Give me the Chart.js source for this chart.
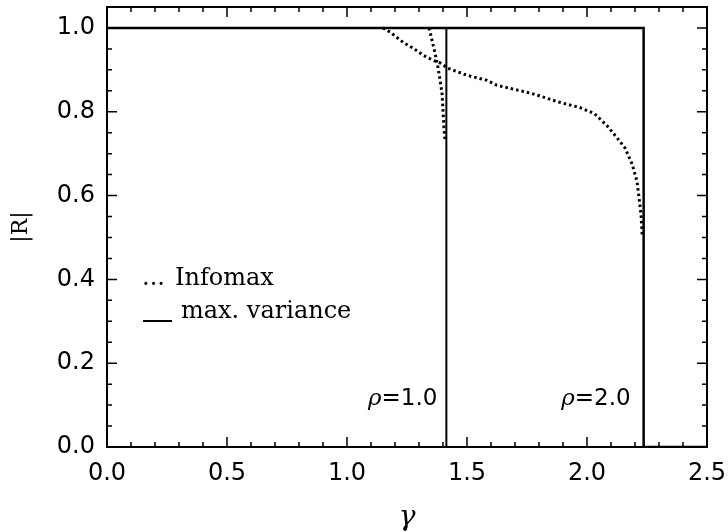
<!DOCTYPE html>
<html>
<head>
<meta charset="utf-8">
<script src="https://cdn.jsdelivr.net/npm/chart.js@4.4.0/dist/chart.umd.min.js"></script>
<style>
  html, body { margin: 0; padding: 0; background: #fff; }
</style>
</head>
<body>
<canvas id="chart" width="728" height="532"></canvas>
<script>
/* ---------- DATA ---------- */
const X_TICKS = [0, 0.5, 1.0, 1.5, 2.0, 2.5];
const Y_TICKS = [0, 0.2, 0.4, 0.6, 0.8, 1.0];

// Infomax, rho = 1.0
const infoRho1Gamma = [1.342, 1.354, 1.367, 1.379, 1.388, 1.396, 1.400, 1.404, 1.408];
const infoRho1R     = [1.000, 0.971, 0.940, 0.906, 0.875, 0.844, 0.803, 0.762, 0.735];

// Infomax, rho = 2.0
const infoRho2Gamma = [1.150, 1.180, 1.233, 1.275, 1.317, 1.358, 1.390, 1.420, 1.500, 1.583, 1.625,
                       1.767, 1.890, 1.970, 2.030, 2.083, 2.125, 2.158, 2.188, 2.208, 2.217, 2.225, 2.230];
const infoRho2R     = [1.000, 0.990, 0.966, 0.952, 0.935, 0.923, 0.916, 0.904, 0.887, 0.875, 0.863,
                       0.844, 0.822, 0.810, 0.796, 0.767, 0.738, 0.714, 0.675, 0.635, 0.594, 0.555, 0.507];

// max. variance: step down at gamma = sqrt(1 + rho^2)
const maxVarRho1Gamma = [0, 1.414, 1.414, 2.5];
const maxVarRho1R     = [1, 1, 0, 0];
const maxVarRho2Gamma = [0, 2.236, 2.236, 2.5];
const maxVarRho2R     = [1, 1, 0, 0];

// rho annotations next to the step lines
const RHO_STEPS = [1.414, 2.236];
const RHO_TEXT  = ["=1.0", "=2.0"];

/* ---------- HELPERS ---------- */
const pts = (xs, ys) => xs.map((g, i) => ({ x: g, y: ys[i] }));

/* ---------- FRAME + INWARD TICKS ---------- */
const framePlugin = {
  id: "frame",
  afterDatasetsDraw(chart) {
    const { ctx, chartArea: a, scales: { x, y } } = chart;
    ctx.save();
    ctx.strokeStyle = "#000";
    ctx.lineWidth = 2;
    ctx.strokeRect(a.left, a.top, a.right - a.left, a.bottom - a.top);

    ctx.lineWidth = 1.5;
    ctx.beginPath();
    for (let i = 0; i <= 25; i++) {
      const px = x.getPixelForValue(i / 10);
      const len = i % 5 === 0 ? 10 : 5;
      ctx.moveTo(px, a.bottom); ctx.lineTo(px, a.bottom - len);
      ctx.moveTo(px, a.top);    ctx.lineTo(px, a.top + len);
    }
    for (let i = 0; i <= 20; i++) {
      const py = y.getPixelForValue(i * 0.05);
      const len = i % 4 === 0 ? 10 : 5;
      ctx.moveTo(a.left, py);  ctx.lineTo(a.left + len, py);
      ctx.moveTo(a.right, py); ctx.lineTo(a.right - len, py);
    }
    ctx.stroke();
    ctx.restore();
  }
};

/* ---------- TEXT: LEGEND + RHO LABELS ---------- */
const textPlugin = {
  id: "texts",
  afterDraw(chart) {
    const { ctx, scales: { x, y } } = chart;
    ctx.save();
    ctx.fillStyle = "#000";
    ctx.strokeStyle = "#000";
    ctx.textBaseline = "alphabetic";

    RHO_STEPS.forEach((g, i) => {
      const right = x.getPixelForValue(g) - (i === 0 ? 9 : 13);
      const base = y.getPixelForValue(0.1);
      ctx.font = "23px 'DejaVu Sans'";
      const w = ctx.measureText(RHO_TEXT[i]).width;
      ctx.textAlign = "left";
      ctx.fillText(RHO_TEXT[i], right - w, base);
      ctx.font = "italic 23px 'DejaVu Serif'";
      ctx.textAlign = "right";
      ctx.fillText("\u03c1", right - w, base);
    });

    // legend
    ctx.textAlign = "left";
    ctx.font = "24px 'DejaVu Serif'";
    ctx.fillText("...", 142, 285);
    ctx.fillText("Infomax", 175, 285);
    ctx.lineWidth = 2;
    ctx.beginPath();
    ctx.moveTo(143, 321); ctx.lineTo(172, 321);
    ctx.stroke();
    ctx.fillText("max. variance", 181, 318);
    ctx.restore();
  }
};

/* ---------- CHART ---------- */
const dotted = { borderColor: "#000", borderWidth: 3, borderDash: [2.5, 3], pointRadius: 0, fill: false };
const solid  = { borderColor: "#000", borderWidth: 2, pointRadius: 0, fill: false };

new Chart(document.getElementById("chart"), {
  type: "line",
  data: {
    datasets: [
      { label: "Infomax rho=1", data: pts(infoRho1Gamma, infoRho1R), ...dotted },
      { label: "Infomax rho=2", data: pts(infoRho2Gamma, infoRho2R), ...dotted },
      { label: "max. variance rho=1", data: pts(maxVarRho1Gamma, maxVarRho1R), ...solid },
      { label: "max. variance rho=2", data: pts(maxVarRho2Gamma, maxVarRho2R), ...solid, borderWidth: 2.5 }
    ]
  },
  options: {
    responsive: false,
    animation: false,
    layout: { padding: { left: 0, right: 21, top: 7, bottom: 0 } },
    plugins: { legend: { display: false }, tooltip: { enabled: false } },
    scales: {
      x: {
        type: "linear",
        min: 0,
        max: 2.5,
        afterBuildTicks: s => { s.ticks = X_TICKS.map(v => ({ value: v })); },
        afterFit: s => { s.height = 85; s.paddingLeft = 0; s.paddingRight = 0; },
        grid: { display: false, drawTicks: false },
        border: { display: false },
        ticks: {
          padding: 12,
          color: "#000",
          font: { family: "DejaVu Sans", size: 24 },
          callback: v => Number(v).toFixed(1)
        },
        title: {
          display: true,
          text: "\u03b3",
          color: "#000",
          font: { family: "DejaVu Serif", style: "italic", size: 28, lineHeight: 1 },
          padding: { top: 0, bottom: 0 }
        }
      },
      y: {
        type: "linear",
        min: 0,
        max: 1.05,
        afterBuildTicks: s => { s.ticks = Y_TICKS.map(v => ({ value: v })); },
        afterFit: s => { s.width = 107; s.paddingTop = 0; s.paddingBottom = 0; },
        grid: { display: false, drawTicks: false },
        border: { display: false },
        ticks: {
          padding: 12,
          color: "#000",
          font: { family: "DejaVu Sans", size: 24 },
          callback: v => Number(v).toFixed(1)
        },
        title: {
          display: true,
          text: "|R|",
          color: "#000",
          font: { family: "DejaVu Serif", size: 22, lineHeight: 1.2 },
          padding: { top: 8, bottom: 0 }
        }
      }
    }
  },
  plugins: [framePlugin, textPlugin]
});
</script>
</body>
</html>
